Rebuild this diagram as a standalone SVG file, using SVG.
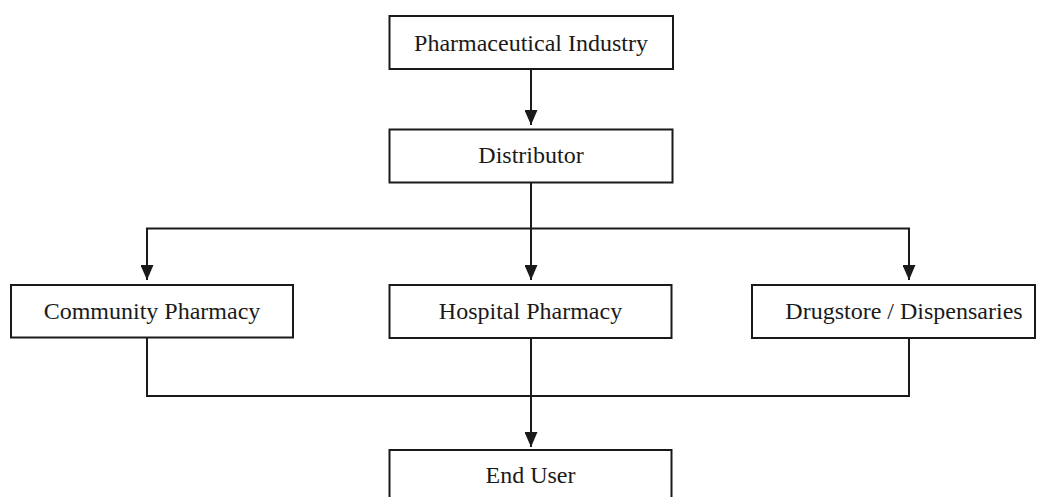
<svg xmlns="http://www.w3.org/2000/svg" width="1037" height="497" viewBox="0 0 1037 497">
<style>
.box{fill:#fff;stroke:#1a1a1a;stroke-width:2}
.lbl{font-family:"Liberation Serif","Times New Roman",serif;font-size:24px;fill:#1a1a1a;text-anchor:middle}
.ln{fill:none;stroke:#1a1a1a;stroke-width:2}
</style>
<defs>
<marker id="ah" markerUnits="userSpaceOnUse" markerWidth="15" markerHeight="13" viewBox="0 0 15 13" refX="15" refY="6.5" orient="auto">
<path d="M0,0 L15,6.5 L0,13 Z" fill="#1a1a1a"/>
</marker>
</defs>
<rect width="1037" height="497" fill="#fff"/>
<g id="connectors">
<line class="ln" x1="531" y1="69" x2="531" y2="125" marker-end="url(#ah)"/>
<line class="ln" x1="531" y1="182" x2="531" y2="228.5"/>
<line class="ln" x1="146" y1="228.5" x2="910" y2="228.5"/>
<line class="ln" x1="147" y1="228.5" x2="147" y2="280" marker-end="url(#ah)"/>
<line class="ln" x1="531" y1="228.5" x2="531" y2="280" marker-end="url(#ah)"/>
<line class="ln" x1="909" y1="228.5" x2="909" y2="280" marker-end="url(#ah)"/>
<polyline class="ln" points="147,337 147,396 909,396 909,337"/>
<line class="ln" x1="531" y1="337" x2="531" y2="447" marker-end="url(#ah)"/>
</g>
<g id="n-industry">
<rect class="box" x="389.5" y="16" width="283.5" height="53"/>
<text class="lbl" x="531" y="50.5">Pharmaceutical Industry</text>
</g>
<g id="n-distributor">
<rect class="box" x="389.5" y="129.5" width="283" height="53"/>
<text class="lbl" x="531" y="163">Distributor</text>
</g>
<g id="n-community">
<rect class="box" x="11" y="285" width="282" height="52.5"/>
<text class="lbl" x="152" y="318.5">Community Pharmacy</text>
</g>
<g id="n-hospital">
<rect class="box" x="389.5" y="285" width="282" height="53"/>
<text class="lbl" x="530.5" y="318.5">Hospital Pharmacy</text>
</g>
<g id="n-drugstore">
<rect class="box" x="752" y="285" width="283" height="53"/>
<text class="lbl" x="904" y="318.5">Drugstore / Dispensaries</text>
</g>
<g id="n-enduser">
<rect class="box" x="389.5" y="450" width="282" height="53"/>
<text class="lbl" x="530.5" y="483">End User</text>
</g>
</svg>
